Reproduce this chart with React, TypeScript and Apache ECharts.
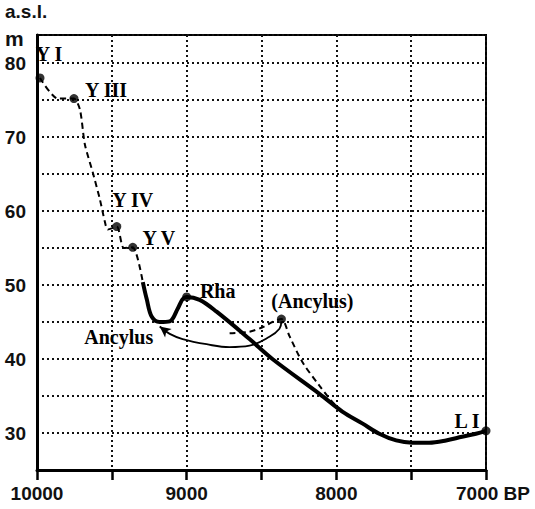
import React, { useEffect, useRef } from "react";
import * as echarts from "echarts";

// Yoldia / early Ancylus stages (dashed)
const upperYears = [9980, 9860, 9753, 9713, 9680, 9627, 9580, 9547, 9527, 9467, 9420, 9360, 9293];
const upperLevels = [78.0, 75.2, 75.2, 73.7, 69.0, 65.2, 61.6, 58.6, 57.5, 57.9, 55.0, 55.1, 50.4];

// Ancylus transgression / Rha / Litorina (thick solid)
const mainYears = [9293, 9267, 9233, 9180, 9113, 9060, 9027, 9000, 8913, 8800, 8580, 8427, 8113, 7960, 7827, 7713, 7600, 7493, 7380, 7267, 7160, 7067, 7000];
const mainLevels = [50.4, 48.1, 45.7, 45.0, 45.1, 46.8, 48.1, 48.4, 48.0, 46.4, 42.7, 40.0, 35.3, 32.9, 31.3, 29.9, 29.0, 28.7, 28.7, 29.0, 29.5, 29.9, 30.3];

// alternative (Ancylus) branch (dashed)
const branchYears = [8713, 8580, 8493, 8427, 8367, 8313, 8227, 8113, 8027, 7967];
const branchLevels = [43.5, 43.7, 44.3, 45.0, 45.4, 43.1, 39.6, 36.4, 34.2, 32.9];

// correlation arrow (thin)
const arcYears = [8367, 8380, 8447, 8580, 8713, 8867, 9027, 9113, 9180];
const arcLevels = [45.1, 44.1, 43.0, 41.8, 41.6, 42.0, 42.7, 43.4, 44.4];

// labelled points
const pointNames = ["Y I", "Y III", "Y IV", "Y V", "Rha", "(Ancylus)", "L I"];
const pointYears = [9980, 9753, 9467, 9360, 9000, 8367, 7000];
const pointLevels = [78.0, 75.2, 57.9, 55.1, 48.4, 45.4, 30.3];

const freeLabel = "Ancylus";
const freeLabelYear = 9180;
const freeLabelLevel = 45.0;

const yTicks = [30, 40, 50, 60, 70, 80];
const xTicks = [10000, 9000, 8000, 7000];

const labelOffsets: Record<string, [number, number]> = {
  "Y I": [9, -24],
  "Y III": [32, -9],
  "Y IV": [16, -27],
  "Y V": [26, -9],
  "Rha": [31, -6],
  "(Ancylus)": [31, -18],
  "L I": [-19, -10],
};

const INK = "#000000";
const SERIF = "'Liberation Serif', 'Times New Roman', serif";
const SANS = "'Liberation Sans', Arial, sans-serif";
const DOT = 9;

export default function App() {
  const ref = useRef<HTMLDivElement>(null);
  useEffect(() => {
    if (!ref.current) return;
    const chart = echarts.init(ref.current, undefined, { renderer: "svg" });
    const zip = (a: number[], b: number[]) => a.map((v, i) => [v, b[i]]);
    const arcData: any[] = zip(arcYears, arcLevels).map((p, i) =>
      i === arcYears.length - 1
        ? { value: p, symbol: "arrow", symbolSize: [8, 11], symbolRotate: 52 }
        : { value: p, symbol: "none" }
    );
    const labelStyle = {
      show: true,
      position: "top",
      distance: 0,
      align: "center",
      verticalAlign: "middle",
      formatter: (p: any) => p.name,
      color: INK,
      opacity: 1,
      fontSize: 20,
      fontWeight: "bold",
      fontFamily: SERIF,
    };
    const dots: any[] = pointNames.map((n, i) => ({
      name: n,
      value: [pointYears[i], pointLevels[i]],
      label: { ...labelStyle, offset: [labelOffsets[n][0], labelOffsets[n][1] + DOT / 2] },
    }));
    const free: any[] = [
      {
        name: freeLabel,
        value: [freeLabelYear, freeLabelLevel],
        label: { ...labelStyle, offset: [-41, 15] },
      },
    ];
    chart.setOption({
      animation: false,
      grid: {
        left: 37,
        right: 49,
        top: 35,
        bottom: 39,
        show: true,
        borderColor: INK,
        borderWidth: 2,
      },
      xAxis: {
        type: "value",
        inverse: true,
        min: 7000,
        max: 10000,
        interval: 500,
        axisLine: { show: true, lineStyle: { color: INK, width: 3 } },
        axisTick: { show: true, length: 10, lineStyle: { color: INK, width: 2.5 } },
        splitLine: { show: true, lineStyle: { color: "#111", width: 2, type: [2, 3] } },
        axisLabel: {
          margin: 14,
          color: "#111",
          fontSize: 19,
          fontWeight: "bold",
          fontFamily: SANS,
          formatter: (v: number) =>
            xTicks.includes(v) ? (v === 7000 ? "{bp|7000 BP}" : String(v)) : "",
          rich: {
            bp: { fontSize: 19, fontWeight: "bold", fontFamily: SANS, color: "#111", padding: [0, 0, 0, 14] },
          },
        },
      },
      yAxis: {
        type: "value",
        min: 25,
        max: 83.8,
        interval: 5,
        axisLine: { show: true, lineStyle: { color: INK, width: 3 } },
        axisTick: { show: false },
        splitLine: { show: true, lineStyle: { color: "#111", width: 2, type: [2, 3] } },
        axisLabel: {
          margin: 11,
          color: "#111",
          fontSize: 19,
          fontWeight: "bold",
          fontFamily: SANS,
          formatter: (v: number) => (yTicks.includes(v) ? String(v) : ""),
        },
      },
      graphic: [
        { type: "text", left: 5, top: 2, style: { text: "a.s.l.", font: `bold 19px ${SANS}`, fill: "#111" } },
        { type: "text", left: 5, top: 28, style: { text: "m", font: `bold 21px ${SANS}`, fill: "#111" } },
      ],
      series: [
        {
          type: "line",
          data: zip(upperYears, upperLevels),
          symbol: "none",
          smooth: 0.25,
          lineStyle: { color: INK, width: 2, type: [6, 4] },
          z: 3,
        },
        {
          type: "line",
          data: zip(mainYears, mainLevels),
          symbol: "none",
          smooth: 0.35,
          lineStyle: { color: INK, width: 4 },
          z: 4,
        },
        {
          type: "line",
          data: zip(branchYears, branchLevels),
          symbol: "none",
          smooth: 0.3,
          lineStyle: { color: INK, width: 2, type: [6, 4] },
          z: 3,
        },
        {
          type: "line",
          data: arcData,
          smooth: 0.4,
          itemStyle: { color: INK },
          lineStyle: { color: INK, width: 1.8 },
          z: 3,
        },
        {
          type: "scatter",
          data: dots,
          symbol: "circle",
          symbolSize: DOT,
          itemStyle: { color: INK },
          z: 5,
        },
        {
          type: "scatter",
          data: free,
          symbol: "circle",
          symbolSize: 0,
          itemStyle: { color: INK },
          z: 5,
        },
      ],
    });
    return () => chart.dispose();
  }, []);
  return <div ref={ref} style={{ width: 535, height: 509, position: "absolute", left: 0, top: 0 }} />;
}
